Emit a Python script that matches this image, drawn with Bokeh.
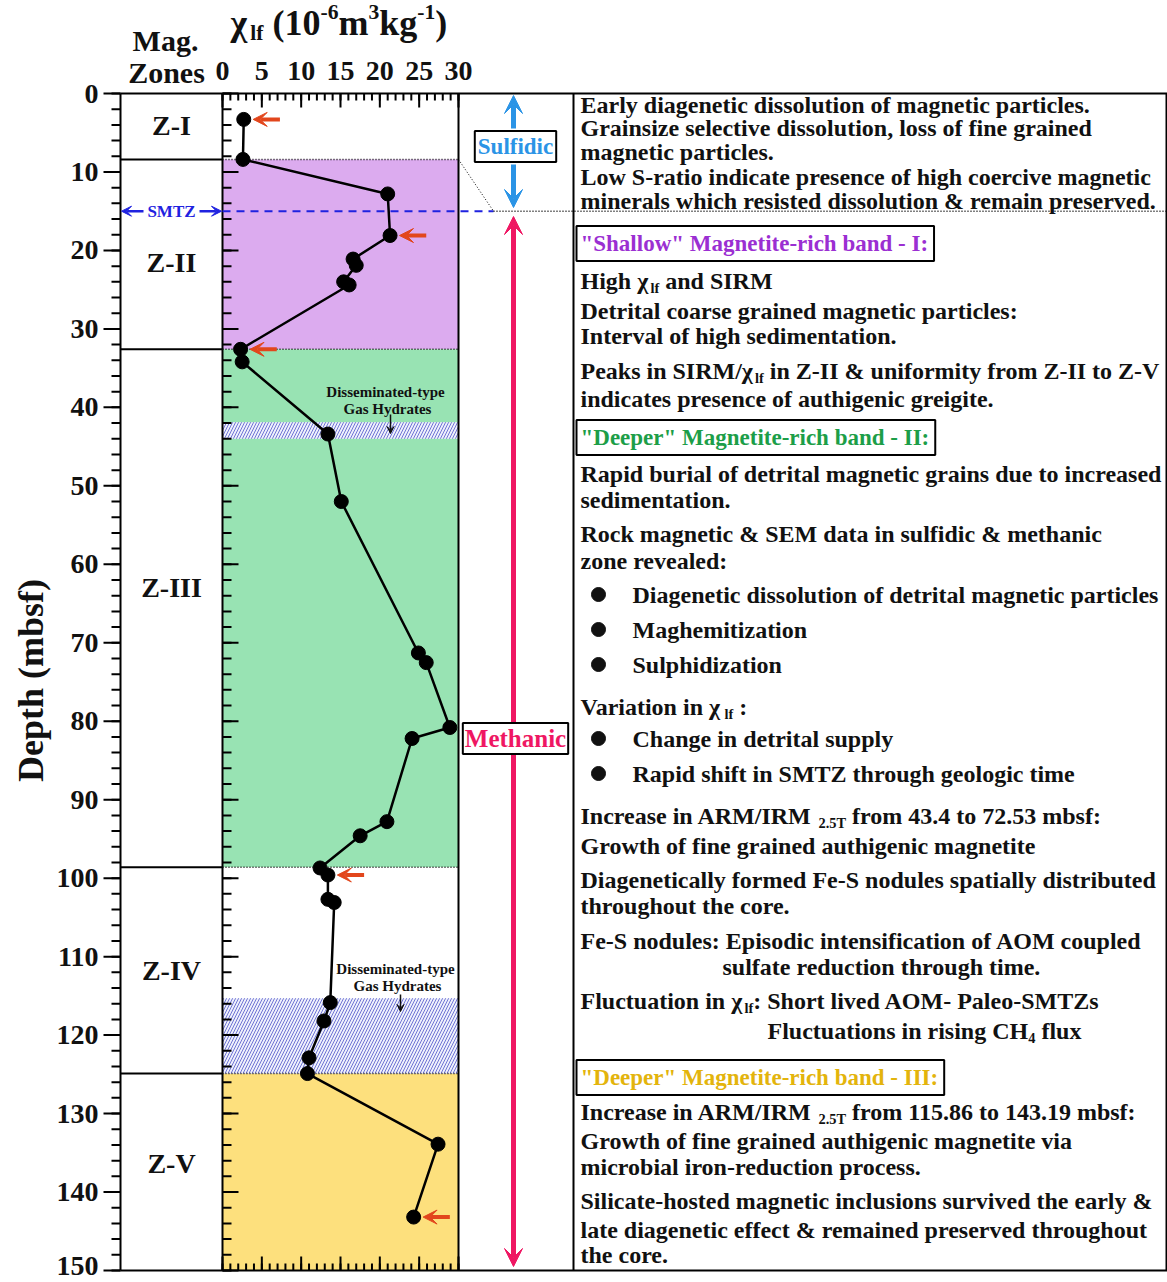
import math
import numpy as np
from bokeh.plotting import figure
from bokeh.models import Range1d, Label, Arrow, VeeHead
from bokeh.embed import file_html
from bokeh.resources import INLINE

# ---------------------------------------------------------------- data
# low-field magnetic susceptibility profile (depth in mbsf, chi_lf in 1e-6 m3/kg)
DEPTH = [3.3, 8.4, 12.8, 18.1, 21.1, 21.9, 24.0, 24.4, 32.6, 34.2, 43.4, 52.0,
         71.3, 72.53, 80.8, 82.2, 92.8, 94.6, 98.7, 99.6, 102.7, 103.1,
         115.86, 118.2, 122.9, 124.9, 133.9, 143.19]
CHI_LF = [2.7, 2.6, 21.0, 21.3, 16.6, 17.0, 15.4, 16.1, 2.3, 2.5, 13.4, 15.1,
          24.9, 25.9, 28.9, 24.1, 20.9, 17.5, 12.4, 13.4, 13.4, 14.2,
          13.7, 12.9, 11.0, 10.8, 27.4, 24.3]
MARKED = [0, 3, 8, 19, 27]          # samples pointed out with red arrows

ZONE_NAMES = ["Z-I", "Z-II", "Z-III", "Z-IV", "Z-V"]
ZONE_TOP = [0.0, 8.4, 32.6, 98.6, 124.9]
ZONE_BASE = [8.4, 32.6, 98.6, 124.9, 150.0]
ZONE_LABEL_DEPTH = [4.1, 21.5, 63.0, 111.8, 136.4]
ZONE_COLORS = ["#ffffff", "#dcabef", "#98e3b3", "#ffffff", "#fde07d"]

HYDRATE_TOP = [41.9, 115.3]          # disseminated-type gas hydrate intervals
HYDRATE_BASE = [44.0, 124.9]
SMTZ = 15.0
DEPTH_MAX = 150
DEPTH_TICKS = list(range(0, 151, 10))
DEPTH_MINOR = list(range(0, 151, 2))
CHI_MAX = 30
CHI_TICKS = [0, 5, 10, 15, 20, 25, 30]
CHI_MINOR = list(range(0, 31))

# ---------------------------------------------------------------- page layout
W, H = 1167, 1282
TOP_PX, BASE_PX = 93, 1270          # page rows of depth 0 and depth 150
AX_X = 120                          # depth axis
ZONE_X = (120, 222)
CHI_X = (222, 458)
NOTE_X = 573
RIGHT_X = 1166
ARROW_X = 513

FONT = "Liberation Serif"
INK = "#111111"
RED = "#e2461c"
BLUE = "#2b94e6"
PINK = "#ef1763"
SMTZ_BLUE = "#1f22e0"
PURPLE = "#9b2fd2"
GREEN = "#1c9e48"
GOLD = "#e3b40c"
DOTS = "1 2"

px_per_m = (BASE_PX - TOP_PX) / DEPTH_MAX
px_per_chi = (CHI_X[1] - CHI_X[0]) / CHI_MAX

p = figure(width=W, height=H, output_backend="svg", toolbar_location=None,
           x_range=Range1d(0, W),
           y_range=Range1d(DEPTH_MAX + (H - BASE_PX) / px_per_m, -TOP_PX / px_per_m),
           x_axis_location=None, y_axis_location=None, min_border=0)
p.extra_x_ranges = {"chi": Range1d(-CHI_X[0] / px_per_chi, (W - CHI_X[0]) / px_per_chi)}
p.extra_y_ranges = {"px": Range1d(H, 0)}
p.grid.visible = False
p.outline_line_color = None
p.background_fill_color = "white"
p.border_fill_color = "white"

# ---------------------------------------------------------------- fills
p.quad(left=0, right=CHI_MAX, top=ZONE_TOP, bottom=ZONE_BASE, fill_color=ZONE_COLORS,
       line_color=None, x_range_name="chi")
p.quad(left=0, right=CHI_MAX, top=HYDRATE_TOP, bottom=HYDRATE_BASE, fill_color="#eef0fc",
       hatch_pattern="/", hatch_color="#6f74d4", hatch_scale=6, hatch_weight=1,
       line_color=None, x_range_name="chi")

# ---------------------------------------------------------------- frame and axes
BL = dict(line_color="black", line_width=2)
# outer box and column separators
p.segment(x0=AX_X, x1=W, y0=[0, DEPTH_MAX], y1=[0, DEPTH_MAX], **BL)
seps = [AX_X, CHI_X[0], CHI_X[1], NOTE_X, RIGHT_X]
p.segment(x0=seps, x1=seps, y0=0, y1=DEPTH_MAX, **BL)

# depth axis ticks (outside) and profile depth ticks (inside)
p.segment(x0=AX_X - 17, x1=AX_X, y0=DEPTH_TICKS, y1=DEPTH_TICKS, **BL)
p.segment(x0=AX_X - 9, x1=AX_X, y0=DEPTH_MINOR, y1=DEPTH_MINOR, **BL)
p.segment(x0=CHI_X[0], x1=CHI_X[0] + 16, y0=DEPTH_TICKS, y1=DEPTH_TICKS, **BL)
p.segment(x0=CHI_X[0], x1=CHI_X[0] + 9, y0=DEPTH_MINOR, y1=DEPTH_MINOR, **BL)

# chi ticks along top and bottom of the profile
for edge, sgn in ((TOP_PX, 1), (BASE_PX, -1)):
    p.segment(x0=CHI_TICKS, x1=CHI_TICKS, y0=edge, y1=edge + sgn * 14,
              x_range_name="chi", y_range_name="px", **BL)
    p.segment(x0=CHI_MINOR, x1=CHI_MINOR, y0=edge, y1=edge + sgn * 7,
              x_range_name="chi", y_range_name="px", **BL)

# zone boundaries: solid in zone column, dotted across the profile
bounds = ZONE_TOP[1:]
p.segment(x0=ZONE_X[0], x1=ZONE_X[1], y0=bounds, y1=bounds, **BL)
p.segment(x0=0, x1=CHI_MAX, y0=bounds, y1=bounds, line_color="black", line_width=1.5,
          line_dash=DOTS, x_range_name="chi")

# SMTZ
p.segment(x0=CHI_X[0], x1=493, y0=SMTZ, y1=SMTZ, line_color=SMTZ_BLUE, line_width=2,
          line_dash="8 6")
p.segment(x0=493, x1=W, y0=SMTZ, y1=SMTZ, line_color="black", line_width=1.5, line_dash=DOTS)
p.segment(x0=CHI_X[1], x1=493, y0=ZONE_TOP[1], y1=SMTZ, line_color="black", line_width=1,
          line_dash=DOTS)

# ---------------------------------------------------------------- susceptibility profile
p.line(CHI_LF, DEPTH, x_range_name="chi", line_color="black", line_width=2.5)
p.scatter(CHI_LF, DEPTH, x_range_name="chi", size=14, fill_color="black", line_color="black")

for i in MARKED:
    p.add_layout(Arrow(x_start=CHI_LF[i] + 4.6, x_end=CHI_LF[i] + 1.2,
                       y_start=DEPTH[i], y_end=DEPTH[i], x_range_name="chi",
                       line_color=RED, line_width=4,
                       end=VeeHead(size=14, fill_color=RED, line_color=RED, line_width=1)))


# ---------------------------------------------------------------- text helpers
TB = {' ': 250, '!': 333, '"': 555, '&': 833, "'": 278, '(': 333, ')': 333, ',': 250,
      '-': 333, '.': 250, '/': 278, ':': 333, 'χ': 550,
      'A': 722, 'B': 667, 'C': 722, 'D': 722, 'E': 667, 'F': 611, 'G': 778, 'H': 778,
      'I': 389, 'J': 500, 'K': 778, 'L': 667, 'M': 944, 'N': 722, 'O': 778, 'P': 611,
      'Q': 778, 'R': 722, 'S': 556, 'T': 667, 'U': 722, 'V': 722, 'W': 1000, 'X': 722,
      'Y': 722, 'Z': 667, 'a': 500, 'b': 556, 'c': 444, 'd': 556, 'e': 444, 'f': 333,
      'g': 500, 'h': 556, 'i': 278, 'j': 333, 'k': 556, 'l': 278, 'm': 833, 'n': 556,
      'o': 500, 'p': 556, 'q': 556, 'r': 444, 's': 389, 't': 333, 'u': 556, 'v': 500,
      'w': 722, 'x': 500, 'y': 500, 'z': 444}


def run_width(s, size):
    return sum(TB.get(c, 500) for c in s) / 1000 * size


def put(x, y, text, size, color=INK, align="left", baseline="middle", yr="px", **kw):
    p.add_layout(Label(x=x, y=y, y_range_name=yr, text=text, text_font=FONT,
                       text_font_size=f"{size:.1f}px", text_font_style="bold",
                       text_color=color, text_align=align, text_baseline=baseline, **kw))


def rich(x, y, runs, size, color=INK):
    for s, kind in runs:
        if kind == "sub":
            fs, dy = size * 0.6, size * 0.3
        elif kind == "sup":
            fs, dy = size * 0.6, -size * 0.3
        else:
            fs, dy = size, 0
        body = s.lstrip(" ")
        lead = run_width(s[:len(s) - len(body)], fs)
        put(x + lead, y + dy, body, fs, color)
        x += run_width(s, fs)


# ---------------------------------------------------------------- axis labels
for t in DEPTH_TICKS:
    # keep the deepest label inside the page
    put(AX_X - 22, min(TOP_PX + t * px_per_m, H - 16.5), str(t), 28, align="right")
put(30, 680, "Depth (mbsf)", 36, align="center", angle=math.pi / 2)

for t in CHI_TICKS:
    put(CHI_X[0] + t * px_per_chi, 70, str(t), 28, align="center")

put(165, 40, "Mag.", 30, align="center")
put(166, 72, "Zones", 30, align="center")
rich(230, 22, [("χ", "n"), ("lf", "sub"), (" (10", "n"), ("-6", "sup"), ("m", "n"),
               ("3", "sup"), ("kg", "n"), ("-1", "sup"), (")", "n")], 36)

# zone names
for name, d in zip(ZONE_NAMES, ZONE_LABEL_DEPTH):
    put(sum(ZONE_X) / 2, d, name, 28, align="center", yr="default")

# SMTZ marker in zone column
put(171, SMTZ, "SMTZ", 17, color=SMTZ_BLUE, align="center", yr="default")
for xs, xe in ((143, 121), (199, 221)):
    p.add_layout(Arrow(x_start=xs, x_end=xe, y_start=SMTZ, y_end=SMTZ,
                       line_color=SMTZ_BLUE, line_width=2.5,
                       end=VeeHead(size=10, fill_color=SMTZ_BLUE, line_color=SMTZ_BLUE)))

# gas hydrate annotations
for cx, ty, (ay0, ay1) in ((385, 391, (414, 433)), (395, 968, (994, 1011))):
    put(cx, ty, "Disseminated-type", 15, align="center")
    put(cx + 2, ty + 17, "Gas Hydrates", 15, align="center")
    p.add_layout(Arrow(x_start=cx + 5, x_end=cx + 5, y_start=ay0, y_end=ay1, y_range_name="px",
                       line_color=INK, line_width=1.5,
                       end=VeeHead(size=7, fill_color=INK, line_color=INK)))

# sulfidic / methanic arrows
p.add_layout(Arrow(x_start=ARROW_X, x_end=ARROW_X, y_start=128, y_end=95, y_range_name="px",
                   line_color=BLUE, line_width=5,
                   end=VeeHead(size=18, fill_color=BLUE, line_color=BLUE)))
p.add_layout(Arrow(x_start=ARROW_X, x_end=ARROW_X, y_start=164, y_end=207, y_range_name="px",
                   line_color=BLUE, line_width=5,
                   end=VeeHead(size=18, fill_color=BLUE, line_color=BLUE)))
p.add_layout(Arrow(x_start=ARROW_X, x_end=ARROW_X, y_start=216, y_end=1266, y_range_name="px",
                   line_color=PINK, line_width=5,
                   start=VeeHead(size=18, fill_color=PINK, line_color=PINK),
                   end=VeeHead(size=18, fill_color=PINK, line_color=PINK)))
put(515, 146, "Sulfidic", 23, color=BLUE, align="center", background_fill_color="white",
    border_line_color="black", border_line_width=2, padding=dict(left=3, right=3, top=3, bottom=3))
put(515, 738, "Methanic", 25, color=PINK, align="center", background_fill_color="white",
    border_line_color="black", border_line_width=2, padding=dict(left=2, right=2, top=2, bottom=2))

# ---------------------------------------------------------------- notes column
TX = 580
BX = 632
NOTES = [
    (104, TX, [("Early diagenetic dissolution of magnetic particles.", "n")]),
    (127, TX, [("Grainsize selective dissolution, loss of fine grained", "n")]),
    (151, TX, [("magnetic particles.", "n")]),
    (176, TX, [("Low S-ratio indicate presence of high coercive magnetic", "n")]),
    (200, TX, [("minerals which resisted dissolution & remain preserved.", "n")]),
    (280, TX, [("High χ", "n"), ("lf", "sub"), (" and SIRM", "n")]),
    (310, TX, [("Detrital coarse grained magnetic particles:", "n")]),
    (335, TX, [("Interval of high sedimentation.", "n")]),
    (370, TX, [("Peaks in SIRM/χ", "n"), ("lf", "sub"),
               (" in Z-II & uniformity from Z-II to Z-V", "n")]),
    (398, TX, [("indicates presence of authigenic greigite.", "n")]),
    (473, TX, [("Rapid burial of detrital magnetic grains due to increased", "n")]),
    (499, TX, [("sedimentation.", "n")]),
    (533, TX, [("Rock magnetic & SEM data in sulfidic & methanic", "n")]),
    (560, TX, [("zone revealed:", "n")]),
    (594, BX, [("Diagenetic dissolution of detrital magnetic particles", "n")]),
    (629, BX, [("Maghemitization", "n")]),
    (664, BX, [("Sulphidization", "n")]),
    (706, TX, [("Variation in χ", "n"), ("lf", "sub"), (" :", "n")]),
    (738, BX, [("Change in detrital supply", "n")]),
    (773, BX, [("Rapid shift in SMTZ through geologic time", "n")]),
    (815, TX, [("Increase in ARM/IRM ", "n"), ("2.5T", "sub"),
               (" from 43.4 to 72.53 mbsf:", "n")]),
    (845, TX, [("Growth of fine grained authigenic magnetite", "n")]),
    (879, TX, [("Diagenetically formed Fe-S nodules spatially distributed", "n")]),
    (905, TX, [("throughout the core.", "n")]),
    (940, TX, [("Fe-S nodules: Episodic intensification of AOM coupled", "n")]),
    (966, 722, [("sulfate reduction through time.", "n")]),
    (1000, TX, [("Fluctuation in χ", "n"), ("lf", "sub"),
                (": Short lived AOM- Paleo-SMTZs", "n")]),
    (1030, 767, [("Fluctuations in rising CH", "n"), ("4", "sub"), (" flux", "n")]),
    (1111, TX, [("Increase in ARM/IRM ", "n"), ("2.5T", "sub"),
                (" from 115.86 to 143.19 mbsf:", "n")]),
    (1140, TX, [("Growth of fine grained authigenic magnetite via", "n")]),
    (1166, TX, [("microbial iron-reduction process.", "n")]),
    (1200, TX, [("Silicate-hosted magnetic inclusions survived the early &", "n")]),
    (1229, TX, [("late diagenetic effect & remained preserved throughout", "n")]),
    (1254, TX, [("the core.", "n")]),
]
for y, x, runs in NOTES:
    rich(x, y, runs, 24)

BULLET_ROWS = [594, 629, 664, 738, 773]
p.scatter(x=[598] * len(BULLET_ROWS), y=BULLET_ROWS, y_range_name="px", size=14,
          fill_color=INK, line_color=INK)

HEADINGS = [
    (243, '"Shallow" Magnetite-rich band - I:', PURPLE),
    (437, '"Deeper" Magnetite-rich band - II:', GREEN),
    (1077, '"Deeper" Magnetite-rich band - III:', GOLD),
]
for y, text, color in HEADINGS:
    put(576, y, text, 23, color=color, background_fill_color="white",
        border_line_color="black", border_line_width=2,
        padding=dict(left=4, right=6, top=5, bottom=5))

open("out.html", "w").write(file_html(p, INLINE))
